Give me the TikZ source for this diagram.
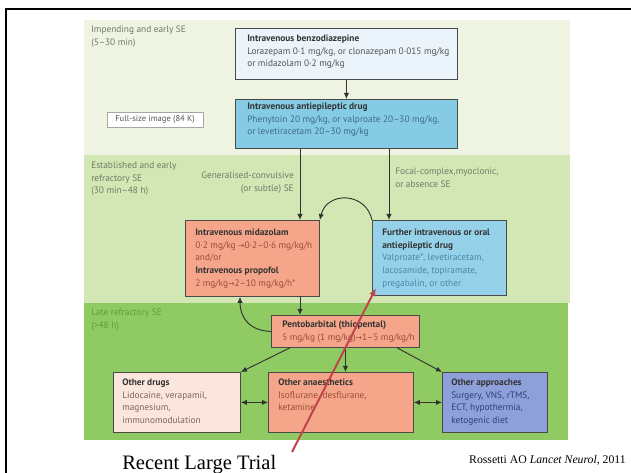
\documentclass[tikz,border=0pt]{standalone}
\usepackage{fontspec}
\setmainfont{Liberation Serif}
\newfontfamily\diagfont{PT Sans}
\newfontfamily\arrowfont{DejaVu Sans}
\usetikzlibrary{arrows.meta,shadows}

\definecolor{zoneA}{HTML}{EEF3E2}
\definecolor{zoneB}{HTML}{D2E7B4}
\definecolor{zoneC}{HTML}{8FCB62}
\definecolor{boxline}{HTML}{4A4A4A}
\definecolor{arrowc}{HTML}{333333}
\definecolor{headc}{HTML}{333333}
\definecolor{zonetext}{HTML}{707A66}
\definecolor{zoneCtext}{HTML}{5E9E3C}
\definecolor{benzoc}{HTML}{EAF4FA}
\definecolor{benzobody}{HTML}{555555}
\definecolor{aedc}{HTML}{86CBE4}
\definecolor{aedbody}{HTML}{3E6C86}
\definecolor{salmon}{HTML}{F5A68A}
\definecolor{salmonbody}{HTML}{9A4E38}
\definecolor{furtherc}{HTML}{95D2EA}
\definecolor{furtherbody}{HTML}{4A86A6}
\definecolor{palepink}{HTML}{FBE6DE}
\definecolor{palebody}{HTML}{7A665C}
\definecolor{periwinkle}{HTML}{8DA0D9}
\definecolor{periwinklebody}{HTML}{2E3E7E}
\definecolor{trialred}{HTML}{C0444C}

\newcommand\pxw{0.75pt}
\newcommand\dtext{\diagfont\fontsize{7}{9.4}\selectfont}
\newcommand\hd[1]{\textcolor{headc}{\bfseries #1}}
\newcommand\toarr{{\arrowfont\fontsize{5.8}{6}\selectfont →}}

\begin{document}
\begin{tikzpicture}[x=0.75pt,y=-0.75pt,
  stage/.style={draw=boxline, line width=0.6pt, anchor=north west, inner sep=0pt},
  txt/.style={font=\dtext, align=left, inner sep=0pt, anchor=north west},
  arr/.style={draw=arrowc, line width=0.7pt, -{Latex[length=4.5pt,width=4pt]}},
  biarr/.style={draw=arrowc, line width=0.7pt, {Latex[length=4.5pt,width=4pt]}-{Latex[length=4.5pt,width=4pt]}},
  redarr/.style={draw=trialred, line width=1.5pt, -{Latex[length=6pt,width=5pt]}},
]
\useasboundingbox (0,0) rectangle (631,473);
\fill[white] (0,0) rectangle (631,473);

% slide frame
\draw[line width=2pt] (6,473) -- (6,9) -- (631,9);

% stage bands
\fill[zoneA] (84,20) rectangle (570,155);
\fill[zoneB] (84,155) rectangle (570,303);
\fill[zoneC] (84,303) rectangle (568,440);

% stage labels
\node[txt, text=zonetext] (stage1) at (91,26) {Impending and early SE\\(5–30 min)};
\node[txt, text=zonetext] (stage2) at (91,162) {Established and early\\refractory SE\\(30 min–48 h)};
\node[txt, text=zoneCtext] (stage3) at (91,309) {Late refractory SE\\(>48 h)};

% link box
\node[draw=gray!70, fill=white, line width=0.5pt, minimum width=96*\pxw, minimum height=15*\pxw,
      inner sep=0pt, font=\diagfont\fontsize{6.4}{7}\selectfont, text=benzobody,
      drop shadow={shadow xshift=1pt, shadow yshift=-1pt, fill=gray!45}] (fullsize) at (155,119.5)
      {Full-size image (84 K)};

% boxes
\node[stage, fill=benzoc, minimum width=222*\pxw, minimum height=51*\pxw] (benzo) at (235,28) {};
\node[txt, text=benzobody] (benzo-t) at (247,35)
  {\hd{Intravenous benzodiazepine}\\Lorazepam 0·1 mg/kg, or clonazepam 0·015 mg/kg\\or midazolam 0·2 mg/kg};

\node[stage, fill=aedc, minimum width=222*\pxw, minimum height=49*\pxw] (aed) at (235,99) {};
\node[txt, text=aedbody] (aed-t) at (247,103)
  {\hd{Intravenous antiepileptic drug}\\Phenytoin 20 mg/kg, or valproate 20–30 mg/kg,\\or levetiracetam 20–30 mg/kg};

\node[stage, fill=salmon, minimum width=134*\pxw, minimum height=76*\pxw] (midaz) at (185,220) {};
\node[txt, text=salmonbody] (midaz-t) at (195,229)
  {\hd{Intravenous midazolam}\\0·2 mg/kg \toarr0·2–0·6 mg/kg/h\\and/or\\\hd{Intravenous propofol}\\2 mg/kg\toarr2–10 mg/kg/h*};

\node[stage, fill=furtherc, minimum width=134*\pxw, minimum height=75*\pxw] (further) at (372,220) {};
\node[txt, text=furtherbody] (further-t) at (382,229)
  {\hd{Further intravenous or oral}\\\hd{antiepileptic drug}\\Valproate*, levetiracetam,\\lacosamide, topiramate,\\pregabalin, or other};

\node[stage, fill=salmon, minimum width=148*\pxw, minimum height=32*\pxw] (pento) at (271,315) {};
\node[txt, text=salmonbody] (pento-t) at (282,321)
  {\hd{Pentobarbital (thiopental)}\\5 mg/kg (1 mg/kg)\toarr1–5 mg/kg/h};

\node[stage, fill=palepink, minimum width=127*\pxw, minimum height=60*\pxw] (otherdrugs) at (113,372) {};
\node[txt, text=palebody] (otherdrugs-t) at (122,379)
  {\hd{Other drugs}\\Lidocaine, verapamil,\\magnesium,\\immunomodulation};

\node[stage, fill=salmon, minimum width=145*\pxw, minimum height=60*\pxw] (anaes) at (268,372) {};
\node[txt, text=salmonbody] (anaes-t) at (278,379)
  {\hd{Other anaesthetics}\\Isoflurane, desflurane,\\ketamine};

\node[stage, fill=periwinkle, minimum width=105*\pxw, minimum height=60*\pxw] (approaches) at (442,372) {};
\node[txt, text=periwinklebody] (approaches-t) at (451,379)
  {\hd{Other approaches}\\Surgery, VNS, rTMS,\\ECT, hypothermia,\\ketogenic diet};

% branch labels
\node[txt, anchor=north east, align=right, text=zonetext] (convulsive) at (294,172)
  {Generalised-convulsive\\(or subtle) SE};
\node[txt, text=zonetext] (focal) at (395,168)
  {Focal-complex,myoclonic,\\or absence SE};

% connector columns
\coordinate (gx) at (300,0);
\coordinate (fx) at (389,0);
\coordinate (px) at (240,0);
\coordinate (pl) at (290,0);
\coordinate (pr) at (397,0);

\draw[arr] (benzo) -- (aed);
\draw[arr] (aed.south -| gx) -- (midaz.north -| gx);
\draw[arr] (aed.south -| fx) -- (further.north -| fx);
\draw[arr] (further.north west) .. controls (366,192) and (327,191) .. (midaz.north east);
\draw[arr] (midaz.south -| gx) -- (pento.north -| gx);
\draw[arr] (pento.west) .. controls (250,331) and (240,318) .. (midaz.south -| px);
\draw[arr] (pento.south -| pl) -- (otherdrugs.north east);
\draw[arr] (pento.south) -- (pento.south |- anaes.north);
\draw[arr] (pento.south -| pr) -- (approaches.north west);
\draw[biarr] (otherdrugs.east) -- (anaes.west);
\draw[biarr] (anaes.east) -- (approaches.west);

% annotation
\coordinate (trialtail) at (292,452);
\coordinate (trialtip) at (376,288);
\draw[redarr] (trialtail) -- (trialtip);
\node[anchor=base west, inner sep=0pt, font=\fontsize{15.4}{16}\selectfont] (trial) at (122,469) {Recent Large Trial};
\node[anchor=base east, inner sep=0pt, font=\fontsize{8.8}{10}\selectfont] (source) at (626,463)
  {Rossetti AO \textit{Lancet Neurol}, 2011};
\end{tikzpicture}
\end{document}
